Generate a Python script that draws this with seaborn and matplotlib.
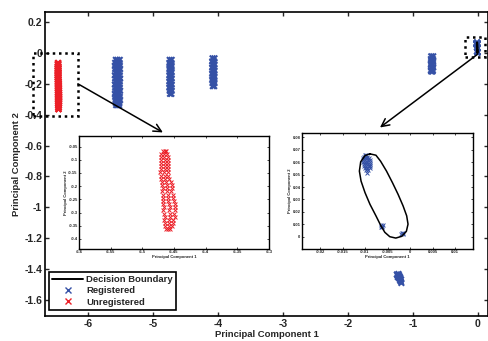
import numpy as np
import pandas as pd
import matplotlib
matplotlib.use('Agg')
import matplotlib.pyplot as plt
import seaborn as sns
from matplotlib.lines import Line2D
from matplotlib.patches import Rectangle

# ---- data ----
# unregistered (red) cluster, also shown zoomed in the left inset
red_y = [-0.066, -0.077, -0.089, -0.101, -0.112, -0.124, -0.136, -0.148, -0.160, -0.172, -0.184, -0.196, -0.208,
         -0.220, -0.232, -0.244, -0.256, -0.268, -0.280, -0.292, -0.304, -0.316, -0.328, -0.340, -0.352, -0.364]
red_xl = [-6.468, -6.470, -6.471, -6.470, -6.471, -6.470, -6.471, -6.472, -6.471, -6.470, -6.469, -6.469, -6.468,
          -6.469, -6.468, -6.467, -6.468, -6.467, -6.466, -6.467, -6.466, -6.465, -6.466, -6.465, -6.464, -6.462]
red_xm = [-6.465, -6.466, -6.466, -6.465, -6.465, -6.464, -6.465, -6.466, -6.465, -6.464, -6.462, -6.461, -6.461,
          -6.461, -6.460, -6.459, -6.459, -6.458, -6.457, -6.458, -6.457, -6.457, -6.458, -6.458, -6.458, -6.459]
red_xr = [-6.462, -6.461, -6.460, -6.459, -6.460, -6.459, -6.459, -6.460, -6.459, -6.458, -6.455, -6.453, -6.453,
          -6.454, -6.452, -6.451, -6.450, -6.449, -6.449, -6.449, -6.450, -6.449, -6.451, -6.452, -6.453, -6.456]

# registered (blue) clusters
reg1_y = [-0.045, -0.064, -0.084, -0.104, -0.125, -0.145, -0.166, -0.186, -0.205, -0.226, -0.245, -0.266, -0.285, -0.305, -0.324, -0.338]
reg1_xl = [-5.575, -5.585, -5.59, -5.585, -5.58, -5.59, -5.585, -5.58, -5.59, -5.585, -5.58, -5.59, -5.585, -5.58, -5.575, -5.57]
reg1_xm = [-5.55, -5.555, -5.55, -5.545, -5.55, -5.555, -5.55, -5.545, -5.55, -5.555, -5.55, -5.545, -5.55, -5.555, -5.55, -5.545]
reg1_xr = [-5.515, -5.52, -5.515, -5.51, -5.52, -5.515, -5.51, -5.515, -5.52, -5.515, -5.51, -5.52, -5.515, -5.51, -5.52, -5.525]

reg2_y = [-0.045, -0.065, -0.085, -0.104, -0.124, -0.145, -0.165, -0.185, -0.205, -0.225, -0.245, -0.265]
reg2_xl = [-4.745, -4.75, -4.745, -4.75, -4.745, -4.75, -4.745, -4.75, -4.745, -4.75, -4.745, -4.74]
reg2_xr = [-4.715, -4.72, -4.715, -4.72, -4.715, -4.72, -4.715, -4.72, -4.715, -4.72, -4.715, -4.72]

reg3_y = [-0.035, -0.055, -0.075, -0.095, -0.115, -0.135, -0.155, -0.175, -0.195, -0.215]
reg3_xl = [-4.085, -4.09, -4.085, -4.09, -4.085, -4.09, -4.085, -4.09, -4.085, -4.08]
reg3_xr = [-4.055, -4.06, -4.055, -4.06, -4.055, -4.06, -4.055, -4.06, -4.055, -4.06]

reg4_y = [-0.022, -0.04, -0.058, -0.076, -0.094, -0.112, -0.12]
reg4_xl = [-0.715, -0.72, -0.715, -0.72, -0.715, -0.72, -0.715]
reg4_xr = [-0.685, -0.69, -0.685, -0.69, -0.685, -0.69, -0.695]

# small cluster near the origin (right inset)
reg5_x = [-0.0101, -0.0097,
          -0.0103, -0.0099, -0.0095,
          -0.0105, -0.0100, -0.0095, -0.0091,
          -0.0104, -0.0099, -0.0094, -0.0089,
          -0.0105, -0.0100, -0.0096, -0.0090,
          -0.0103, -0.0098, -0.0093, -0.0088,
          -0.0102, -0.0097, -0.0092, -0.0088,
          -0.0100, -0.0095, -0.0090,
          -0.0098, -0.0093,
          -0.0096,
          -0.0064, -0.0062, -0.0065, -0.0061, -0.0063,
          -0.0018, -0.0016, -0.0019, -0.0015]
reg5_y = [0.0660, 0.0660,
          0.0645, 0.0645, 0.0645,
          0.0630, 0.0630, 0.0630, 0.0630,
          0.0615, 0.0615, 0.0615, 0.0615,
          0.0600, 0.0600, 0.0600, 0.0600,
          0.0585, 0.0585, 0.0585, 0.0585,
          0.0570, 0.0570, 0.0570, 0.0570,
          0.0555, 0.0555, 0.0555,
          0.0540, 0.0540,
          0.0515,
          0.0095, 0.0085, 0.0082, 0.0092, 0.0078,
          0.0030, 0.0024, 0.0022, 0.0029]

reg6_x = [-1.245, -1.235, -1.225, -1.215, -1.205, -1.195, -1.185, -1.175, -1.22, -1.21, -1.2, -1.19, -1.18, -1.23]
reg6_y = [-1.435, -1.44, -1.448, -1.455, -1.462, -1.472, -1.48, -1.49, -1.432, -1.44, -1.45, -1.458, -1.468, -1.452]

# decision boundary traced around the origin cluster
bnd_x = [-0.00890, -0.00757, -0.00654, -0.00522, -0.00390, -0.00265, -0.00154, -0.00074, -0.00044, -0.00081, -0.00184,
         -0.00316, -0.00449, -0.00559, -0.00647, -0.00757, -0.00890, -0.01000, -0.01088, -0.01125, -0.01096, -0.01000, -0.00890]
bnd_y = [0.0667, 0.0656, 0.0608, 0.0528, 0.0435, 0.0341, 0.0248, 0.0168, 0.0101, 0.0043, 0.0003,
         -0.0011, 0.0000, 0.0035, 0.0088, 0.0168, 0.0261, 0.0355, 0.0448, 0.0528, 0.0603, 0.0653, 0.0667]

main_xticks = [-6, -5, -4, -3, -2, -1, 0]
main_yticks = [0.2, 0, -0.2, -0.4, -0.6, -0.8, -1, -1.2, -1.4, -1.6]
main_ylabels = ['0.2', '0', '-0.2', '-0.4', '-0.6', '-0.8', '-1', '-1.2', '-1.4', '-1.6']
in1_xticks = [-6.6, -6.55, -6.5, -6.45, -6.4, -6.35, -6.3]
in1_yticks = [-0.05, -0.1, -0.15, -0.2, -0.25, -0.3, -0.35, -0.4]
in2_xticks = [-0.02, -0.015, -0.01, -0.005, 0, 0.005, 0.01]
in2_yticks = [0, 0.01, 0.02, 0.03, 0.04, 0.05, 0.06, 0.07, 0.08]

blue = '#3551a6'
red = '#ec1f27'

# ---- tables ----
red_df = pd.DataFrame({'pc1': red_xl + red_xm + red_xr, 'pc2': red_y * 3, 'label': 'Unregistered'})
reg_x = (reg1_xl + reg1_xm + reg1_xr + reg2_xl + reg2_xr + reg3_xl + reg3_xr + reg4_xl + reg4_xr + reg5_x + reg6_x)
reg_y = (reg1_y * 3 + reg2_y * 2 + reg3_y * 2 + reg4_y * 2 + reg5_y + reg6_y)
blue_df = pd.DataFrame({'pc1': reg_x, 'pc2': reg_y, 'label': 'Registered'})
df = pd.concat([blue_df, red_df], ignore_index=True)
near0 = pd.DataFrame({'pc1': reg5_x, 'pc2': reg5_y})

sns.set_style('ticks')
plt.rcParams['font.family'] = ['Liberation Sans', 'DejaVu Sans']
plt.rcParams['font.weight'] = 'bold'
plt.rcParams['axes.labelweight'] = 'bold'
plt.rcParams['xtick.direction'] = 'in'
plt.rcParams['ytick.direction'] = 'in'
plt.rcParams['axes.edgecolor'] = 'black'

fig = plt.figure(figsize=(4.89, 3.41), dpi=100)
ax = fig.add_axes([0.092, 0.0733, 0.906, 0.8915])

sns.scatterplot(data=df, x='pc1', y='pc2', hue='label', palette={'Registered': blue, 'Unregistered': red},
                marker='x', s=16, linewidth=1.5, legend=False, ax=ax)
ax.plot(bnd_x, bnd_y, color='black', lw=1.5)

ax.set_xlim(-6.667, 0.16)
ax.set_ylim(-1.704, 0.265)
ax.set_xticks(main_xticks)
ax.set_xticklabels([str(t) for t in main_xticks])
ax.set_yticks(main_yticks)
ax.set_yticklabels(main_ylabels)
ax.tick_params(labelsize=7.5, length=3, width=1, top=True, right=True, pad=2)
for sp in ax.spines.values():
    sp.set_linewidth(1.2)
    sp.set_visible(True)
ax.set_xlabel('Principal Component 1', fontsize=6.8, labelpad=1)
ax.set_ylabel('Principal Component 2', fontsize=6.8, labelpad=2)

# dotted boxes and arrows
ax.add_patch(Rectangle((-6.85, -0.41), 0.69, 0.41, fill=False, ls=(0, (1, 1.5)), lw=1.8, ec='black', clip_on=False, zorder=5))
ax.add_patch(Rectangle((-0.196, -0.028), 0.308, 0.129, fill=False, ls=(0, (1, 1.5)), lw=1.8, ec='black', clip_on=False, zorder=5))
ax.annotate('', xy=(-4.85, -0.515), xytext=(-6.16, -0.2),
            arrowprops=dict(arrowstyle='->', color='black', lw=1.1, mutation_scale=14, shrinkA=0, shrinkB=0))
ax.annotate('', xy=(-1.505, -0.483), xytext=(-0.005, -0.01),
            arrowprops=dict(arrowstyle='->', color='black', lw=1.1, mutation_scale=14, shrinkA=0, shrinkB=0))

handles = [Line2D([], [], color='black', lw=1.4),
           Line2D([], [], color=blue, marker='x', ls='none', markersize=4, mew=1),
           Line2D([], [], color=red, marker='x', ls='none', markersize=4, mew=1)]
leg = ax.legend(handles, ['Decision Boundary', 'Registered', 'Unregistered'], loc='lower left',
                bbox_to_anchor=(0.009, 0.02), borderaxespad=0, fontsize=6.8, handlelength=3.3,
                handletextpad=0.3, labelspacing=0.25, borderpad=0.35, fancybox=False, framealpha=1)
leg.get_frame().set_edgecolor('black')
leg.get_frame().set_linewidth(1.2)
for t in leg.get_texts():
    t.set_fontweight('bold')

# left inset: unregistered cluster
ax1 = fig.add_axes([0.1616, 0.2698, 0.3885, 0.3314])
sns.scatterplot(data=red_df, x='pc1', y='pc2', color=red, marker='x', s=8, linewidth=0.7, legend=False, ax=ax1)
ax1.set_xlim(-6.6, -6.3)
ax1.set_ylim(-0.438, -0.01)
ax1.set_xticks(in1_xticks)
ax1.set_xticklabels([str(t) for t in in1_xticks])
ax1.set_yticks(in1_yticks)
ax1.set_yticklabels([str(t) for t in in1_yticks])
ax1.set_xlabel('Principal Component 1', fontsize=3, labelpad=0.5)
ax1.set_ylabel('Principal Component 2', fontsize=3, labelpad=0.5)

# right inset: cluster near origin with decision boundary
ax2 = fig.add_axes([0.6176, 0.2698, 0.3497, 0.3402])
sns.scatterplot(data=near0, x='pc1', y='pc2', color=blue, marker='x', s=8, linewidth=0.7, legend=False, ax=ax2)
ax2.plot(bnd_x, bnd_y, color='black', lw=1.1)
ax2.set_xlim(-0.024, 0.014)
ax2.set_ylim(-0.0099, 0.0835)
ax2.set_xticks(in2_xticks)
ax2.set_xticklabels([str(t) for t in in2_xticks])
ax2.set_yticks(in2_yticks)
ax2.set_yticklabels([str(t) for t in in2_yticks])
ax2.set_xlabel('Principal Component 1', fontsize=3, labelpad=0.5)
ax2.set_ylabel('Principal Component 2', fontsize=3, labelpad=0.5)

for a in (ax1, ax2):
    a.set_facecolor('white')
    a.tick_params(labelsize=3, length=1.5, width=0.6, top=True, right=True, pad=1)
    for sp in a.spines.values():
        sp.set_linewidth(1.0)
        sp.set_visible(True)

fig.savefig('out.png', dpi=100)
